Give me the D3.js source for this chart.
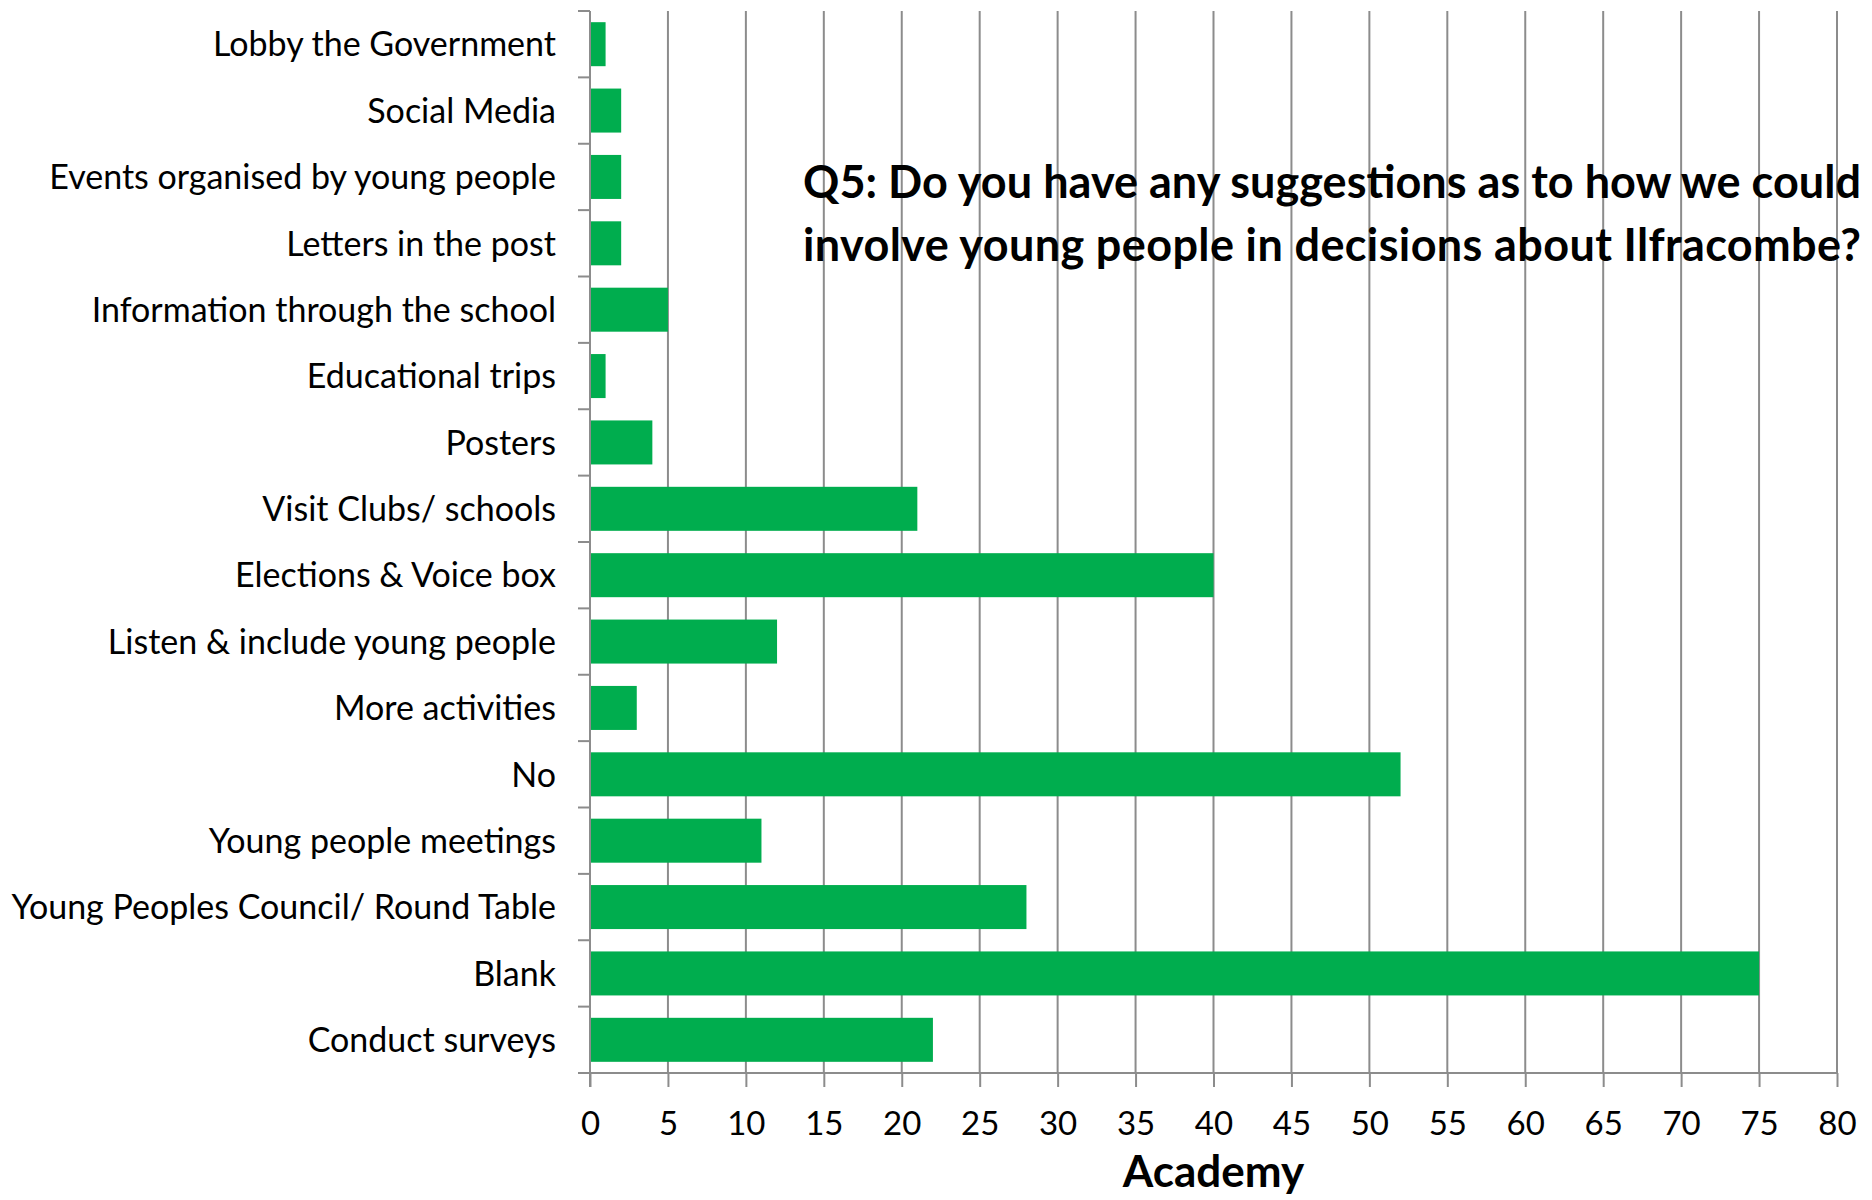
<!DOCTYPE html>
<html>
<head>
<meta charset="utf-8">
<script src="https://cdn.jsdelivr.net/npm/d3@7"></script>
<style>
  html, body { margin: 0; padding: 0; background: #ffffff; }
  svg { display: block; }
  text { font-family: Lato, "Open Sans", sans-serif; fill: #000; }
</style>
</head>
<body>
<svg id="chart" width="1872" height="1200"></svg>
<script>
const categories = [
  "Lobby the Government",
  "Social Media",
  "Events organised by young people",
  "Letters in the post",
  "Information through the school",
  "Educational trips",
  "Posters",
  "Visit Clubs/ schools",
  "Elections & Voice box",
  "Listen & include young people",
  "More activities",
  "No",
  "Young people meetings",
  "Young Peoples Council/ Round Table",
  "Blank",
  "Conduct surveys"
];
const values = [1, 2, 2, 2, 5, 1, 4, 21, 40, 12, 3, 52, 11, 28, 75, 22];
const xTicks = [0, 5, 10, 15, 20, 25, 30, 35, 40, 45, 50, 55, 60, 65, 70, 75, 80];
const titleLines = [
  "Q5: Do you have any suggestions as to how we could",
  "involve young people in decisions about Ilfracombe?"
];
const axisTitle = "Academy";

(function () {
const svg = d3.select("#chart");
const pLeft = 590, pRight = 1837, pTop = 11, pBottom = 1073;

const x = d3.scaleLinear().domain([0, 80]).range([pLeft, pRight]);
const y = d3.scaleBand().domain(categories).range([pTop, pBottom])
  .paddingInner(0.337).paddingOuter(0.1685);

const gridColor = "#8c8c8c";

// gridlines
svg.append("g").selectAll("line").data(xTicks.filter(d => d > 0)).join("line")
  .attr("x1", d => x(d)).attr("x2", d => x(d))
  .attr("y1", pTop).attr("y2", pBottom)
  .attr("stroke", gridColor).attr("stroke-width", 2);

// bars
svg.append("g").selectAll("rect").data(categories).join("rect")
  .attr("x", x(0) + 1)
  .attr("y", d => y(d))
  .attr("width", (d, i) => x(values[i]) - x(0) - 1)
  .attr("height", y.bandwidth())
  .attr("fill", "#00AD4E");

// x axis
const xAxis = svg.append("g").attr("transform", `translate(0,${pBottom})`)
  .call(d3.axisBottom(x).tickValues(xTicks).tickSize(14).tickPadding(18).tickSizeOuter(0));
xAxis.select(".domain").remove();
xAxis.selectAll(".tick line").attr("stroke", gridColor).attr("stroke-width", 2);
xAxis.selectAll(".tick text")
  .style("font-family", "Lato, sans-serif").style("font-size", "33px")
  .attr("fill", "#000").attr("dy", "0.9em");
svg.append("line").attr("x1", pLeft - 12).attr("x2", pRight)
  .attr("y1", pBottom).attr("y2", pBottom)
  .attr("stroke", gridColor).attr("stroke-width", 2);

// y axis line and boundary ticks
svg.append("line").attr("x1", pLeft).attr("x2", pLeft)
  .attr("y1", pTop).attr("y2", pBottom + 14)
  .attr("stroke", gridColor).attr("stroke-width", 2);
const boundaries = d3.range(categories.length + 1).map(i => pTop + (pBottom - pTop) * i / categories.length);
svg.append("g").selectAll("line").data(boundaries).join("line")
  .attr("x1", pLeft - 12).attr("x2", pLeft)
  .attr("y1", d => d).attr("y2", d => d)
  .attr("stroke", gridColor).attr("stroke-width", 2);

// category labels
svg.append("g").selectAll("text").data(categories).join("text")
  .attr("x", 556)
  .attr("y", d => y(d) + y.bandwidth() / 2)
  .attr("dy", "0.36em")
  .attr("text-anchor", "end")
  .style("font-size", "34px")
  .text(d => d);

// title
svg.append("g").selectAll("text").data(titleLines).join("text")
  .attr("x", 803)
  .attr("y", (d, i) => 198 + i * 63)
  .attr("textLength", 1058)
  .attr("lengthAdjust", "spacing")
  .style("font-size", "45px").style("font-weight", "bold")
  .text(d => d);

// axis title
svg.append("text")
  .attr("x", (pLeft + pRight) / 2).attr("y", 1187)
  .attr("text-anchor", "middle")
  .style("font-size", "44px").style("font-weight", "bold")
  .text(axisTitle);
})();
</script>
</body>
</html>
